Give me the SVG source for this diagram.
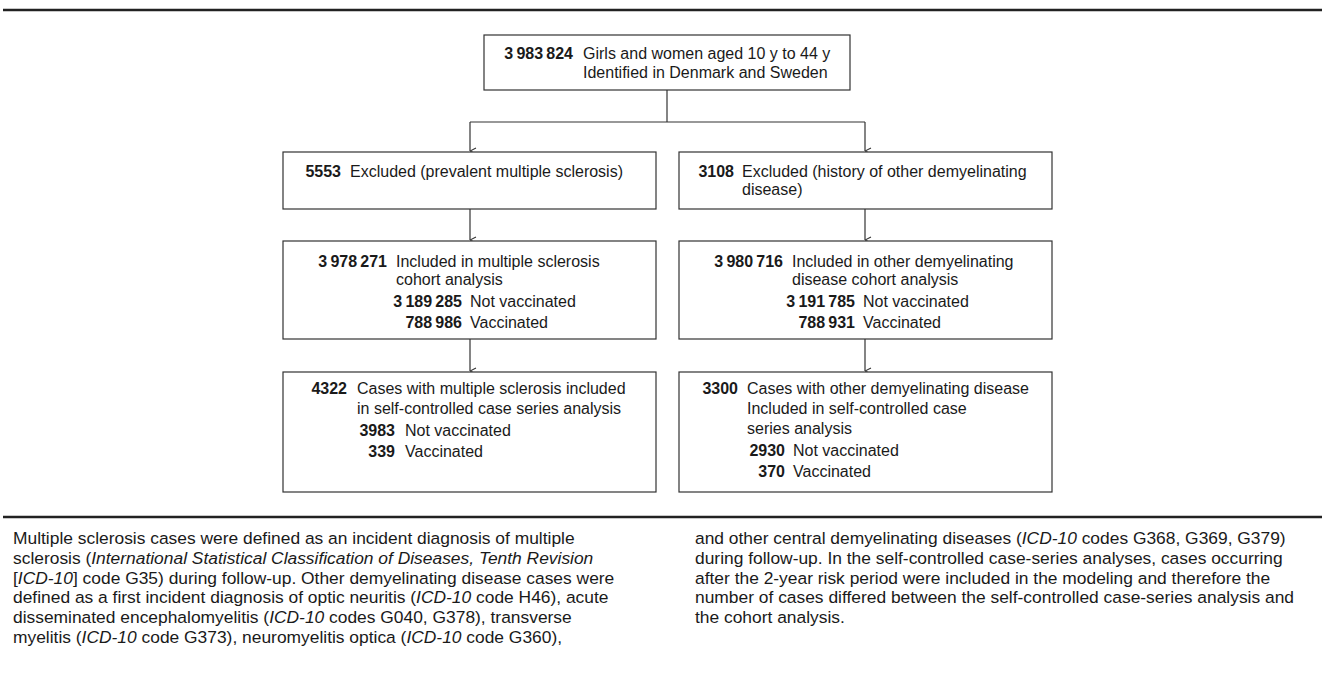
<svg xmlns="http://www.w3.org/2000/svg" width="1325" height="688" viewBox="0 0 1325 688">
<defs>
<style>
.bg{fill:#ffffff}
.rule{stroke:#222;stroke-width:2.5;fill:none}
.box{fill:#fff;stroke:#333;stroke-width:1.2}
.conn{stroke:#333;stroke-width:1.2;fill:none}
.t{font-family:"Liberation Sans",Arial,sans-serif;font-size:16px;fill:#1a1a1a}
.n{font-weight:bold;text-anchor:end}
.cap{font-family:"Liberation Sans",Arial,sans-serif;font-size:17.4px;fill:#1a1a1a}
.i{font-style:italic}
</style>
<marker id="arr" viewBox="0 0 8 8" refX="4" refY="8" markerWidth="8" markerHeight="8" orient="auto-start-reverse" markerUnits="userSpaceOnUse">
<path d="M1,2 L4,8 L7,2" fill="none" stroke="#333" stroke-width="1.1"/>
</marker>
</defs>
<rect class="bg" x="0" y="0" width="1325" height="688"/>
<line class="rule" x1="3" y1="10" x2="1322" y2="10"/>

<g id="connectors">
<path class="conn" d="M667,90 V122"/>
<path class="conn" d="M470,122 H865"/>
<path class="conn" d="M470,122 V151" marker-end="url(#arr)"/>
<path class="conn" d="M865,122 V151" marker-end="url(#arr)"/>
<path class="conn" d="M470,209 V240" marker-end="url(#arr)"/>
<path class="conn" d="M865,209 V240" marker-end="url(#arr)"/>
<path class="conn" d="M470,339 V371" marker-end="url(#arr)"/>
<path class="conn" d="M865,339 V371" marker-end="url(#arr)"/>
</g>

<g id="n-identified">
<rect class="box" x="484" y="35" width="366" height="55"/>
<text class="t n" x="573" y="59">3&#8201;983&#8201;824</text>
<text class="t" x="583" y="59">Girls and women aged 10 y to 44 y</text>
<text class="t" x="583" y="78">Identified in Denmark and Sweden</text>
</g>

<g id="n-excluded-ms">
<rect class="box" x="283" y="152" width="373" height="57"/>
<text class="t n" x="341" y="177">5553</text>
<text class="t" x="350" y="177">Excluded (prevalent multiple sclerosis)</text>
</g>

<g id="n-excluded-other">
<rect class="box" x="679" y="152" width="373" height="57"/>
<text class="t n" x="734" y="177">3108</text>
<text class="t" x="742" y="177">Excluded (history of other demyelinating</text>
<text class="t" x="742" y="195">disease)</text>
</g>

<g id="n-cohort-ms">
<rect class="box" x="283" y="241" width="373" height="98"/>
<text class="t n" x="387" y="267">3&#8201;978&#8201;271</text>
<text class="t" x="396" y="267">Included in multiple sclerosis</text>
<text class="t" x="396" y="285">cohort analysis</text>
<text class="t n" x="462" y="307">3&#8201;189&#8201;285</text>
<text class="t" x="470" y="307">Not vaccinated</text>
<text class="t n" x="462" y="328">788&#8201;986</text>
<text class="t" x="470" y="328">Vaccinated</text>
</g>

<g id="n-cohort-other">
<rect class="box" x="679" y="241" width="373" height="98"/>
<text class="t n" x="783" y="267">3&#8201;980&#8201;716</text>
<text class="t" x="792" y="267">Included in other demyelinating</text>
<text class="t" x="792" y="285">disease cohort analysis</text>
<text class="t n" x="855" y="307">3&#8201;191&#8201;785</text>
<text class="t" x="863" y="307">Not vaccinated</text>
<text class="t n" x="855" y="328">788&#8201;931</text>
<text class="t" x="863" y="328">Vaccinated</text>
</g>

<g id="n-sccs-ms">
<rect class="box" x="283" y="372" width="373" height="120"/>
<text class="t n" x="347" y="394">4322</text>
<text class="t" x="357" y="394">Cases with multiple sclerosis included</text>
<text class="t" x="357" y="414">in self-controlled case series analysis</text>
<text class="t n" x="395" y="436">3983</text>
<text class="t" x="405" y="436">Not vaccinated</text>
<text class="t n" x="395" y="457">339</text>
<text class="t" x="405" y="457">Vaccinated</text>
</g>

<g id="n-sccs-other">
<rect class="box" x="679" y="372" width="373" height="120"/>
<text class="t n" x="738" y="394">3300</text>
<text class="t" x="747" y="394">Cases with other demyelinating disease</text>
<text class="t" x="747" y="414">Included in self-controlled case</text>
<text class="t" x="747" y="434">series analysis</text>
<text class="t n" x="785" y="456">2930</text>
<text class="t" x="793" y="456">Not vaccinated</text>
<text class="t n" x="785" y="477">370</text>
<text class="t" x="793" y="477">Vaccinated</text>
</g>

<line class="rule" x1="3" y1="517" x2="1322" y2="517"/>

<g id="caption">
<text class="cap" x="13" y="544">Multiple sclerosis cases were defined as an incident diagnosis of multiple</text>
<text class="cap" x="13" y="564">sclerosis (<tspan class="i">International Statistical Classification of Diseases, Tenth Revision</tspan></text>
<text class="cap" x="13" y="584">[<tspan class="i">ICD-10</tspan>] code G35) during follow-up. Other demyelinating disease cases were</text>
<text class="cap" x="13" y="603">defined as a first incident diagnosis of optic neuritis (<tspan class="i">ICD-10</tspan> code H46), acute</text>
<text class="cap" x="13" y="623">disseminated encephalomyelitis (<tspan class="i">ICD-10</tspan> codes G040, G378), transverse</text>
<text class="cap" x="13" y="643">myelitis (<tspan class="i">ICD-10</tspan> code G373), neuromyelitis optica (<tspan class="i">ICD-10</tspan> code G360),</text>
<text class="cap" x="695" y="544">and other central demyelinating diseases (<tspan class="i">ICD-10</tspan> codes G368, G369, G379)</text>
<text class="cap" x="695" y="564">during follow-up. In the self-controlled case-series analyses, cases occurring</text>
<text class="cap" x="695" y="584">after the 2-year risk period were included in the modeling and therefore the</text>
<text class="cap" x="695" y="603">number of cases differed between the self-controlled case-series analysis and</text>
<text class="cap" x="695" y="623">the cohort analysis.</text>
</g>
</svg>
